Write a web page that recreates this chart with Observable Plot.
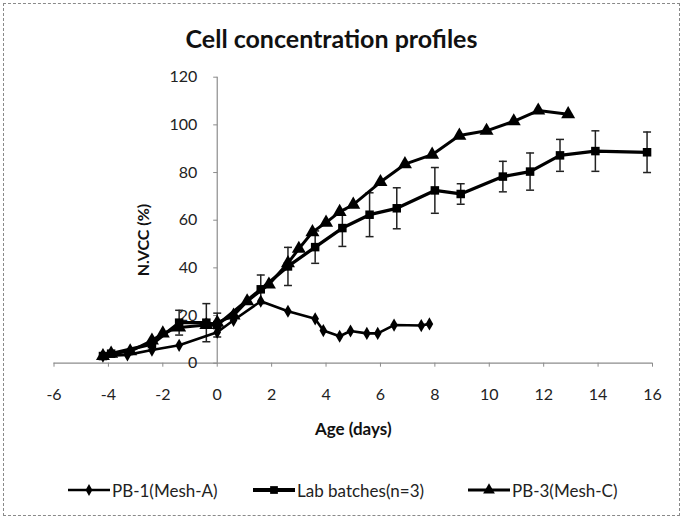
<!DOCTYPE html>
<html>
<head>
<meta charset="utf-8">
<script src="https://cdn.jsdelivr.net/npm/d3@7"></script>
<script src="https://cdn.jsdelivr.net/npm/@observablehq/plot@0.6"></script>
<style>
  html, body { margin: 0; padding: 0; background: #fff; }
  #wrap { position: relative; width: 685px; height: 521px; overflow: hidden; font-family: Lato, "Open Sans", sans-serif; color: #111; }
  #border { position: absolute; left: 3px; top: 3px; width: 677px; height: 513px; border: 1px dashed #8a8a8a; box-sizing: border-box; pointer-events: none; }
  #title { height: 62px; box-sizing: border-box; padding-top: 23px; text-align: center; font-weight: bold; font-size: 25px; line-height: 30px; padding-right: 22px; }
  #chart svg { display: block; }
  #ylabel { position: absolute; left: 142px; top: 240px; transform: translate(-50%, -50%) rotate(-90deg); font-weight: bold; font-size: 16px; white-space: nowrap; color: #111; }
  #legend { position: absolute; top: 479px; left: 0; width: 685px; height: 22px; font-size: 17px; color: #222; }
  .item { position: absolute; display: flex; align-items: center; height: 22px; }
  .item svg { display: block; margin-right: 2px; }
</style>
</head>
<body>
<div id="wrap">
  <div id="title">Cell concentration profiles</div>
  <div id="chart"></div>
  <div id="ylabel">N.VCC (%)</div>
  <div id="legend"></div>
  <div id="border"></div>
</div>
<script>
// ---- data ----
const seriesNames = ["PB-1(Mesh-A)", "Lab batches(n=3)", "PB-3(Mesh-C)"];

const pb1Days = [-4.2, -3.3, -2.4, -1.4, 0, 0.6, 1.6, 2.6, 3.6, 3.9, 4.5, 4.9, 5.5, 5.9, 6.5, 7.5, 7.8];
const pb1Vcc  = [3, 3.5, 5.5, 7.5, 13, 18, 26, 21.8, 18.6, 13.7, 11.3, 13.5, 12.5, 12.5, 16, 15.8, 16.5];

const labDays = [-4.2, -3.9, -2.4, -1.4, -0.4, 0, 1.6, 2.6, 3.6, 4.6, 5.6, 6.6, 8.0, 8.95, 10.5, 11.5, 12.6, 13.9, 15.8];
const labVcc  = [3, 4, 8, 17, 17, 16, 31, 40.6, 48.7, 56.7, 62.3, 65, 72.5, 71, 78.3, 80.4, 87.2, 89, 88.5];
const labErr  = [0, 0, 0, 5.2, 8, 5, 6, 8, 6.8, 7.7, 9.2, 8.6, 9.6, 4.3, 6.4, 7.8, 6.7, 8.5, 8.5];

const pb3Days = [-4.2, -3.9, -3.2, -2.4, -2.0, -1.4, -0.4, 0, 0.6, 1.1, 1.9, 2.6, 3.0, 3.5, 4.0, 4.5, 5.0, 6.0, 6.9, 7.9, 8.9, 9.9, 10.9, 11.8, 12.9];
const pb3Vcc  = [3, 4, 5, 9.5, 12.5, 15, 16, 17, 20, 26, 33, 42, 48, 55, 59, 63.5, 66.5, 76, 83.5, 87.5, 95.5, 97.5, 101.5, 106, 104.5];

const xTicks = [-6, -4, -2, 0, 2, 4, 6, 8, 10, 12, 14, 16];
const yTicks = [0, 20, 40, 60, 80, 100, 120];

// ---- tables built from arrays ----
const pb1 = pb1Days.map((d, i) => ({day: d, vcc: pb1Vcc[i]}));
const lab = labDays.map((d, i) => ({day: d, vcc: labVcc[i], err: labErr[i]}));
const pb3 = pb3Days.map((d, i) => ({day: d, vcc: pb3Vcc[i]}));
const labErrRows = lab.filter(r => r.err > 0);

const hline = {draw(ctx, size) { const w = Math.sqrt(size); ctx.moveTo(-w / 2, 0); ctx.lineTo(w / 2, 0); }};

const font = "Lato, 'Open Sans', sans-serif";
const W = 685, H = 398;

const chart = Plot.plot({
  width: W, height: H,
  marginLeft: 53.5, marginRight: 33, marginTop: 14.7, marginBottom: 97.3,
  style: {fontFamily: font, fontSize: "16px", color: "#222", background: "transparent", overflow: "visible"},
  x: {domain: [-6, 16], axis: null},
  y: {domain: [0, 120], axis: null},
  marks: [
    // x axis
    Plot.ruleY([0], {stroke: "#8c8c8c", strokeWidth: 1.2}),
    Plot.axisX({ticks: xTicks, tickFormat: d => String(d), tickSize: 4, tickPadding: 21, stroke: "#8c8c8c", fill: "#222", fontSize: 16, label: null}),
    Plot.text(["Age (days)"], {frameAnchor: "bottom", dy: 72, fontWeight: "bold", fontSize: 17, fill: "#111"}),
    // y axis at x = 0
    Plot.ruleX([0], {y1: 0, y2: 120, stroke: "#8c8c8c", strokeWidth: 1.2}),
    Plot.dot(yTicks, {x: 0, y: d => d, symbol: hline, r: 2.3, dx: -2, stroke: "#8c8c8c", strokeWidth: 1}),
    Plot.text(yTicks, {x: 0, y: d => d, text: d => String(d), textAnchor: "end", dx: -20, fontSize: 16, fill: "#222"}),
    // error bars
    Plot.ruleX(labErrRows, {x: "day", y1: d => d.vcc - d.err, y2: d => d.vcc + d.err, stroke: "#222", strokeWidth: 1.5}),
    Plot.dot(labErrRows, {x: "day", y: d => d.vcc - d.err, symbol: hline, r: 4.5, stroke: "#222", strokeWidth: 1.5}),
    Plot.dot(labErrRows, {x: "day", y: d => d.vcc + d.err, symbol: hline, r: 4.5, stroke: "#222", strokeWidth: 1.5}),
    // lines
    Plot.line(pb1, {x: "day", y: "vcc", stroke: "#000", strokeWidth: 2.6}),
    Plot.line(pb3, {x: "day", y: "vcc", stroke: "#000", strokeWidth: 3}),
    Plot.line(lab, {x: "day", y: "vcc", stroke: "#000", strokeWidth: 3.3}),
    // markers
    Plot.dot(pb1, {x: "day", y: "vcc", symbol: "diamond", r: 4, fill: "#000"}),
    Plot.dot(pb3, {x: "day", y: "vcc", symbol: "triangle", r: 5.2, fill: "#000"}),
    Plot.dot(lab, {x: "day", y: "vcc", symbol: "square", r: 4.8, fill: "#000"})
  ]
});
document.getElementById("chart").appendChild(chart);

// ---- legend ----
const legendItems = [
  {name: seriesNames[0], left: 68, sym: d3.symbolDiamond, size: 40, sw: 2.4},
  {name: seriesNames[1], left: 253, sym: d3.symbolSquare, size: 60, sw: 4},
  {name: seriesNames[2], left: 468, sym: d3.symbolTriangle, size: 60, sw: 3}
];
const legend = d3.select("#legend");
for (const it of legendItems) {
  const div = legend.append("div").attr("class", "item").style("left", it.left + "px");
  const s = div.append("svg").attr("width", 42).attr("height", 22);
  s.append("line").attr("x1", 0).attr("x2", 42).attr("y1", 11).attr("y2", 11).attr("stroke", "#000").attr("stroke-width", it.sw);
  s.append("path").attr("d", d3.symbol(it.sym, it.size)()).attr("transform", "translate(21,11)").attr("fill", "#000");
  div.append("span").text(it.name);
}
</script>
</body>
</html>
